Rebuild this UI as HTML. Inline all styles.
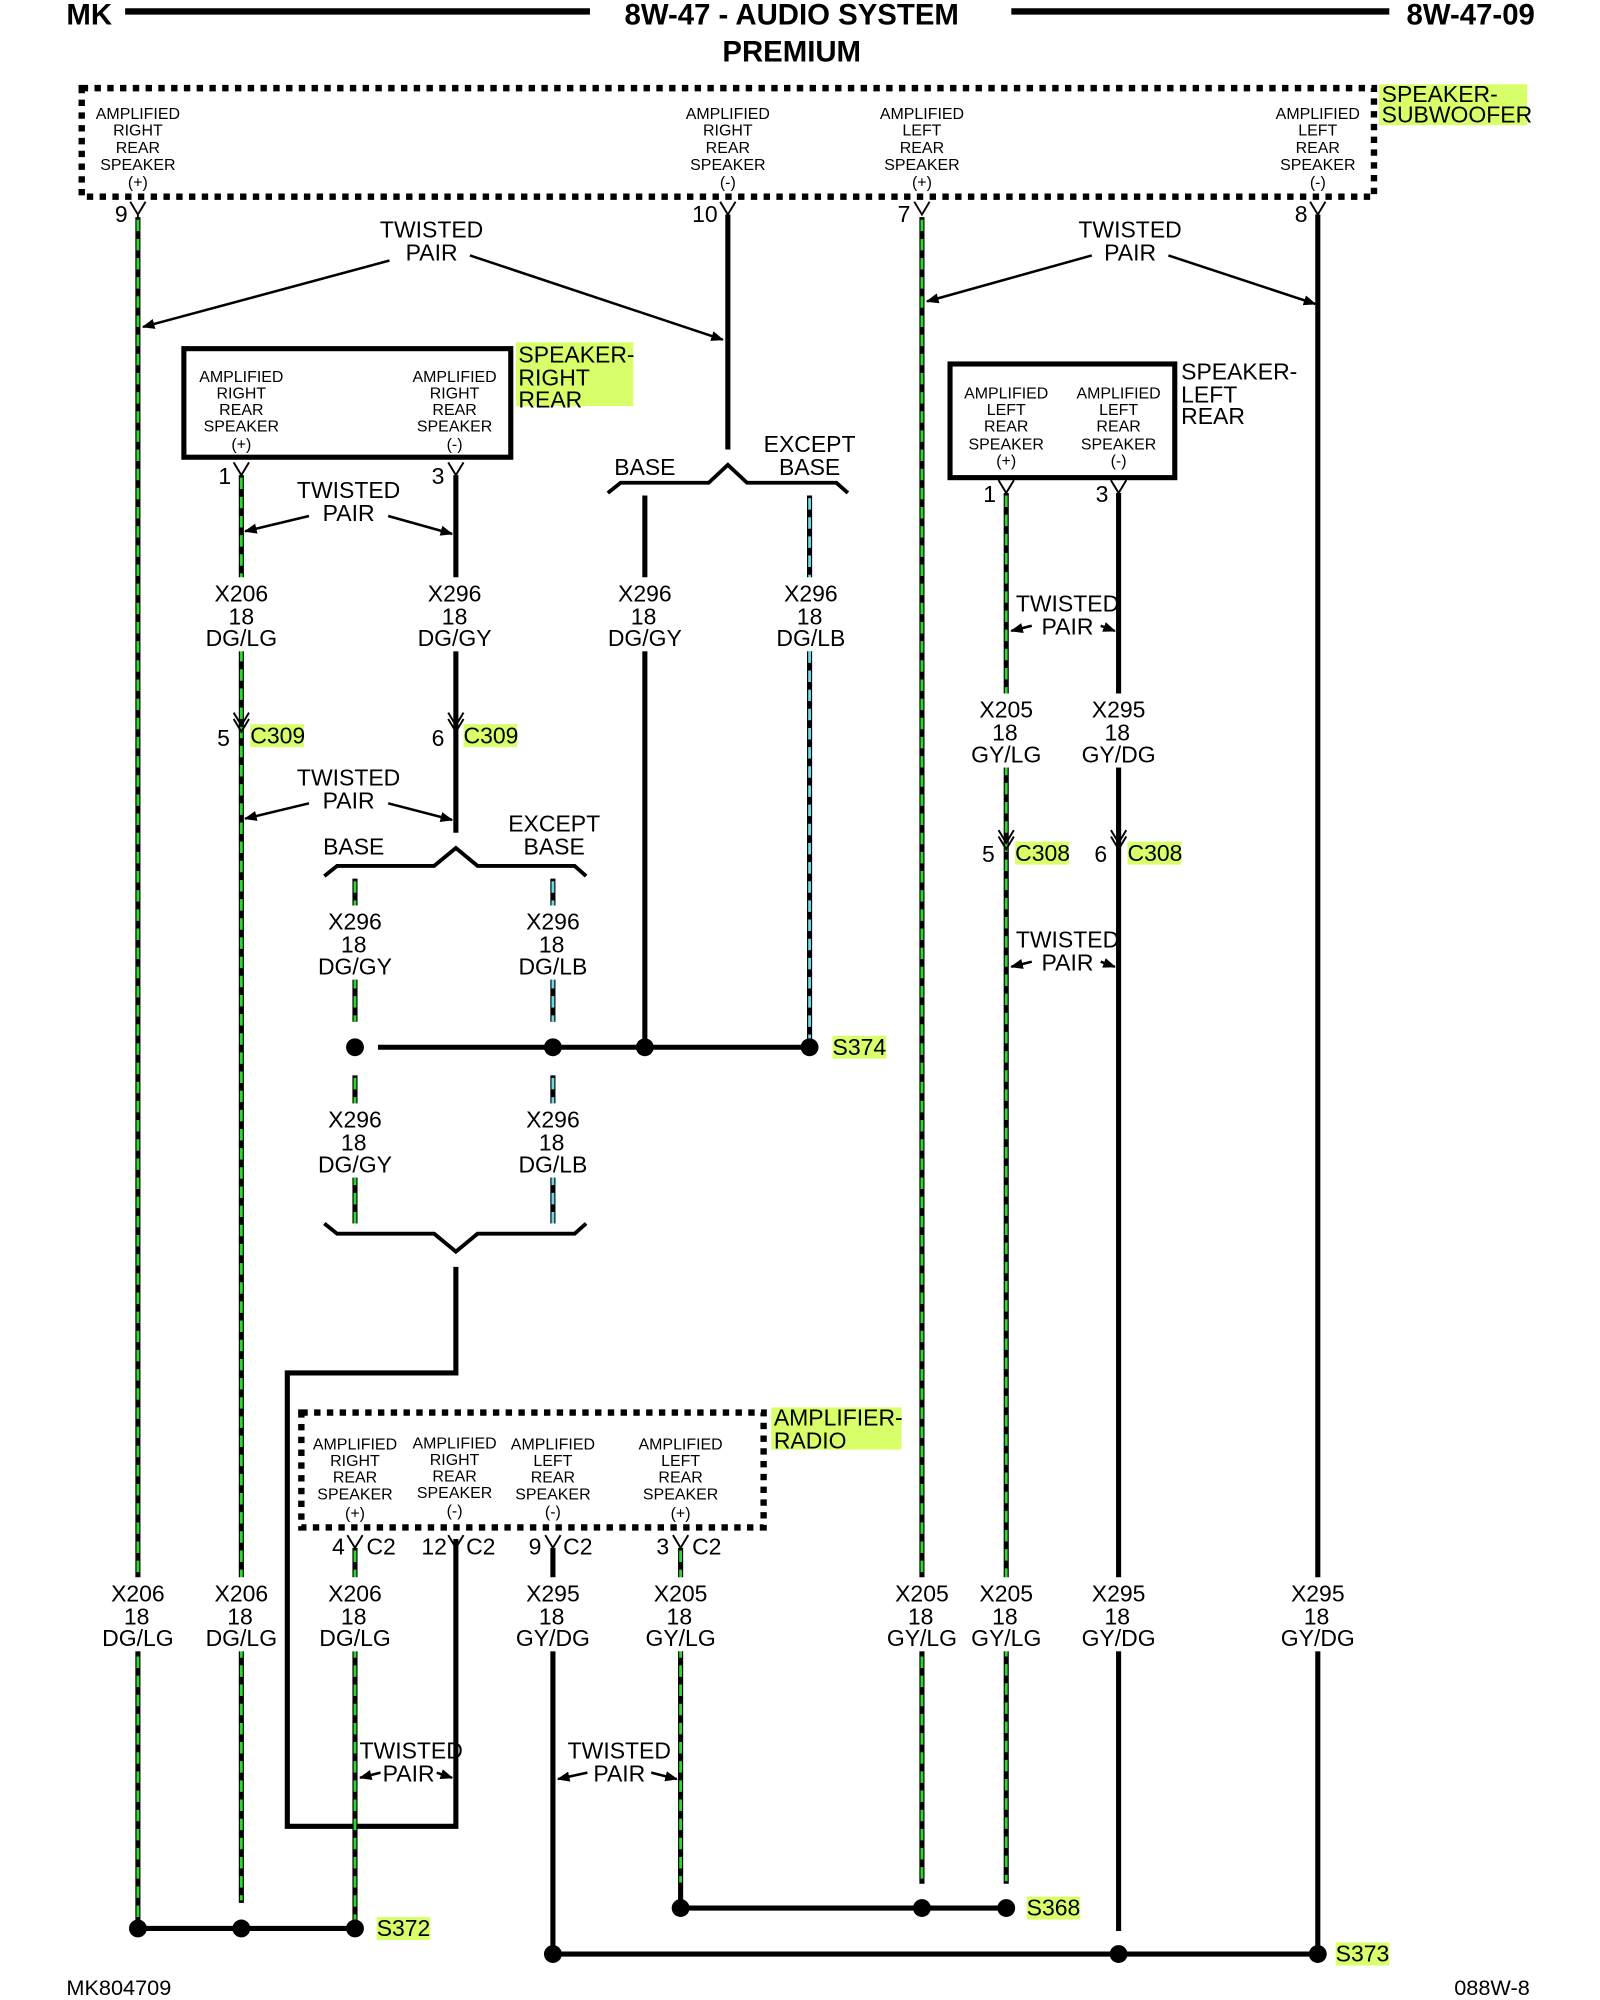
<!DOCTYPE html>
<html><head><meta charset="utf-8"><style>
html,body{margin:0;padding:0;background:#fff}
svg{display:block}
text{font-family:"Liberation Sans Narrow","Liberation Sans",sans-serif;fill:#000}
.h{font-size:23px;font-weight:bold}
.p{font-size:12.5px;text-anchor:middle}
.w{font-size:18px;text-anchor:middle}
.l{font-size:18px}
.b{stroke:#000;stroke-width:4;fill:none}
.g{stroke:#2fd62f;stroke-width:2.2;stroke-dasharray:9 6;fill:none}
.c{stroke:#6fd8e8;stroke-width:2.2;stroke-dasharray:9 6;fill:none}
.a{stroke:#000;stroke-width:2;fill:none;marker-end:url(#ar)}
.hl{fill:#d8ff6a}
</style></head><body>
<svg width="1600" height="2000" viewBox="0 0 1253 1566" preserveAspectRatio="none" xmlns="http://www.w3.org/2000/svg">
<defs><marker id="ar" markerWidth="10" markerHeight="8" refX="9" refY="4" orient="auto" markerUnits="userSpaceOnUse"><path d="M0,0 L10,4 L0,8 z" fill="#000"/></marker></defs>
<!-- header -->
<text class="h" x="52" y="19">MK</text>
<line x1="98" y1="9" x2="462" y2="9" stroke="#000" stroke-width="5"/>
<text class="h" x="620" y="19" text-anchor="middle">8W-47 - AUDIO SYSTEM</text>
<line x1="792" y1="9" x2="1088" y2="9" stroke="#000" stroke-width="5"/>
<text class="h" x="1202" y="19" text-anchor="end">8W-47-09</text>
<text class="h" x="620" y="48" text-anchor="middle">PREMIUM</text>

<!-- top dotted box -->
<rect x="64" y="69" width="1012" height="85" fill="none" stroke="#000" stroke-width="5" stroke-dasharray="5 5"/>
<rect class="hl" x="1080" y="66" width="116" height="32"/>
<text class="l" x="1082" y="80">SPEAKER-</text><text class="l" x="1082" y="96">SUBWOOFER</text>
<g class="p">
<text x="108" y="93">AMPLIFIED</text><text x="108" y="106">RIGHT</text><text x="108" y="120">REAR</text><text x="108" y="133">SPEAKER</text><text x="108" y="147">(+)</text>
<text x="570" y="93">AMPLIFIED</text><text x="570" y="106">RIGHT</text><text x="570" y="120">REAR</text><text x="570" y="133">SPEAKER</text><text x="570" y="147">(-)</text>
<text x="722" y="93">AMPLIFIED</text><text x="722" y="106">LEFT</text><text x="722" y="120">REAR</text><text x="722" y="133">SPEAKER</text><text x="722" y="147">(+)</text>
<text x="1032" y="93">AMPLIFIED</text><text x="1032" y="106">LEFT</text><text x="1032" y="120">REAR</text><text x="1032" y="133">SPEAKER</text><text x="1032" y="147">(-)</text>
</g>
<g class="l">
<text x="90" y="174">9</text><text x="542" y="174">10</text><text x="703" y="174">7</text><text x="1014" y="174">8</text>
</g>
<g stroke="#000" stroke-width="1.5" fill="none">
<path d="M102,158 L108,168 L114,158 M108,168 V172"/><path d="M564,158 L570,168 L576,158"/><path d="M716,158 L722,168 L728,158"/><path d="M1026,158 L1032,168 L1038,158"/>
</g>

<!-- main wires -->
<path class="b" d="M108,170 V1510"/><path class="g" d="M108,172 V1508"/>
<path class="b" d="M570,168 V352"/>
<path class="b" d="M722,170 V1475"/><path class="g" d="M722,172 V1473"/>
<path class="b" d="M1032,168 V1530"/>

<text class="l" x="338" y="186" text-anchor="middle">TWISTED</text><text class="l" x="338" y="204" text-anchor="middle">PAIR</text>
<line class="a" x1="305" y1="204" x2="112" y2="256"/><line class="a" x1="368" y1="200" x2="566" y2="266"/>
<text class="l" x="885" y="186" text-anchor="middle">TWISTED</text><text class="l" x="885" y="204" text-anchor="middle">PAIR</text>
<line class="a" x1="855" y1="200" x2="726" y2="236"/><line class="a" x1="915" y1="200" x2="1030" y2="238"/>

<!-- right rear box -->
<rect x="144" y="273" width="256" height="85" fill="#fff" stroke="#000" stroke-width="4"/>
<rect class="hl" x="404" y="268" width="92" height="50"/>
<text class="l" x="406" y="284">SPEAKER-</text><text class="l" x="406" y="302">RIGHT</text><text class="l" x="406" y="319">REAR</text>
<g class="p">
<text x="189" y="299">AMPLIFIED</text><text x="189" y="312">RIGHT</text><text x="189" y="325">REAR</text><text x="189" y="338">SPEAKER</text><text x="189" y="352">(+)</text>
<text x="356" y="299">AMPLIFIED</text><text x="356" y="312">RIGHT</text><text x="356" y="325">REAR</text><text x="356" y="338">SPEAKER</text><text x="356" y="352">(-)</text>
</g>
<text class="l" x="171" y="379">1</text><text class="l" x="338" y="379">3</text>
<g stroke="#000" stroke-width="1.5" fill="none"><path d="M183,362 L189,372 L195,362"/><path d="M351,362 L357,372 L363,362"/></g>
<path class="b" d="M189,372 V1490"/><path class="g" d="M189,374 V1488"/>
<path class="b" d="M357,372 V652"/>
<text class="l" x="273" y="390" text-anchor="middle">TWISTED</text><text class="l" x="273" y="408" text-anchor="middle">PAIR</text>
<line class="a" x1="242" y1="404" x2="192" y2="416"/><line class="a" x1="304" y1="404" x2="354" y2="418"/>

<!-- C309 -->
<g stroke="#000" stroke-width="1.5" fill="none"><path d="M183,558 L189,568 L195,558 M183,563 L189,573 L195,563"/><path d="M351,558 L357,568 L363,558 M351,563 L357,573 L363,563"/></g>
<text class="l" x="170" y="584">5</text><rect class="hl" x="196" y="567" width="42" height="18"/><text class="l" x="196" y="582">C309</text>
<text class="l" x="338" y="584">6</text><rect class="hl" x="363" y="567" width="42" height="18"/><text class="l" x="363" y="582">C309</text>
<text class="l" x="273" y="615" text-anchor="middle">TWISTED</text><text class="l" x="273" y="633" text-anchor="middle">PAIR</text>
<line class="a" x1="242" y1="629" x2="192" y2="641"/><line class="a" x1="304" y1="629" x2="354" y2="642"/>

<!-- bracket 1 -->
<path d="M254,686 L264,678 L340,678 L357,664 L374,678 L450,678 L459,686" class="b" style="stroke-width:3"/>
<text class="l" x="277" y="669" text-anchor="middle">BASE</text>
<text class="l" x="434" y="651" text-anchor="middle">EXCEPT</text><text class="l" x="434" y="669" text-anchor="middle">BASE</text>
<path class="b" d="M278,688 V800"/><path class="g" d="M278,690 V800"/>
<path class="b" d="M433,688 V800"/><path class="c" d="M433,690 V800"/>
<path class="b" d="M278,842 V958"/><path class="g" d="M278,844 V958"/>
<path class="b" d="M433,842 V958"/><path class="c" d="M433,844 V958"/>
<path d="M254,958 L264,966 L340,966 L357,980 L374,966 L450,966 L459,958" class="b" style="stroke-width:3"/>
<path class="b" d="M357,992 V1075 H225 V1430 H357 V1205"/>

<!-- middle bracket -->
<path d="M476,386 L486,378 L555,378 L570,364 L585,378 L655,378 L664,386" class="b" style="stroke-width:3"/>
<text class="l" x="505" y="372" text-anchor="middle">BASE</text>
<text class="l" x="634" y="354" text-anchor="middle">EXCEPT</text><text class="l" x="634" y="372" text-anchor="middle">BASE</text>
<path class="b" d="M505,388 V820"/>
<path class="b" d="M634,388 V820"/><path class="c" d="M634,390 V818"/>

<!-- S374 -->
<line x1="296" y1="820" x2="634" y2="820" stroke="#000" stroke-width="4"/>
<circle cx="278" cy="820" r="7"/><circle cx="433" cy="820" r="7"/><circle cx="505" cy="820" r="7"/><circle cx="634" cy="820" r="7"/>
<rect class="hl" x="652" y="811" width="42" height="18"/><text class="l" x="652" y="826">S374</text>

<!-- left rear box -->
<rect x="744" y="285" width="176" height="89" fill="#fff" stroke="#000" stroke-width="4"/>
<text class="l" x="925" y="297">SPEAKER-</text><text class="l" x="925" y="315">LEFT</text><text class="l" x="925" y="332">REAR</text>
<g class="p">
<text x="788" y="312">AMPLIFIED</text><text x="788" y="325">LEFT</text><text x="788" y="338">REAR</text><text x="788" y="352">SPEAKER</text><text x="788" y="365">(+)</text>
<text x="876" y="312">AMPLIFIED</text><text x="876" y="325">LEFT</text><text x="876" y="338">REAR</text><text x="876" y="352">SPEAKER</text><text x="876" y="365">(-)</text>
</g>
<text class="l" x="770" y="393">1</text><text class="l" x="858" y="393">3</text>
<g stroke="#000" stroke-width="1.5" fill="none"><path d="M782,376 L788,386 L794,376"/><path d="M870,376 L876,386 L882,376"/></g>
<path class="b" d="M788,386 V1475"/><path class="g" d="M788,388 V1473"/>
<path class="b" d="M876,386 V1512"/>
<text class="l" x="836" y="479" text-anchor="middle">TWISTED</text><text class="l" x="836" y="497" text-anchor="middle">PAIR</text>
<line class="a" x1="808" y1="490" x2="792" y2="494"/><line class="a" x1="862" y1="490" x2="873" y2="494"/>
<g stroke="#000" stroke-width="1.5" fill="none"><path d="M782,650 L788,660 L794,650 M782,655 L788,665 L794,655"/><path d="M870,650 L876,660 L882,650 M870,655 L876,665 L882,655"/></g>
<text class="l" x="769" y="675">5</text><rect class="hl" x="795" y="659" width="42" height="18"/><text class="l" x="795" y="674">C308</text>
<text class="l" x="857" y="675">6</text><rect class="hl" x="883" y="659" width="42" height="18"/><text class="l" x="883" y="674">C308</text>
<text class="l" x="836" y="742" text-anchor="middle">TWISTED</text><text class="l" x="836" y="760" text-anchor="middle">PAIR</text>
<line class="a" x1="808" y1="753" x2="792" y2="757"/><line class="a" x1="862" y1="753" x2="873" y2="757"/>

<!-- amplifier radio -->
<rect x="236" y="1106" width="362" height="90" fill="#fff" stroke="#000" stroke-width="5" stroke-dasharray="5 5"/>
<rect class="hl" x="604" y="1102" width="102" height="33"/>
<text class="l" x="606" y="1116">AMPLIFIER-</text><text class="l" x="606" y="1134">RADIO</text>
<g class="p">
<text x="278" y="1135">AMPLIFIED</text><text x="278" y="1148">RIGHT</text><text x="278" y="1161">REAR</text><text x="278" y="1174">SPEAKER</text><text x="278" y="1189">(+)</text>
<text x="356" y="1134">AMPLIFIED</text><text x="356" y="1147">RIGHT</text><text x="356" y="1160">REAR</text><text x="356" y="1173">SPEAKER</text><text x="356" y="1187">(-)</text>
<text x="433" y="1135">AMPLIFIED</text><text x="433" y="1148">LEFT</text><text x="433" y="1161">REAR</text><text x="433" y="1174">SPEAKER</text><text x="433" y="1188">(-)</text>
<text x="533" y="1135">AMPLIFIED</text><text x="533" y="1148">LEFT</text><text x="533" y="1161">REAR</text><text x="533" y="1174">SPEAKER</text><text x="533" y="1189">(+)</text>
</g>
<g stroke="#000" stroke-width="1.5" fill="none"><path d="M272,1202 L278,1212 L284,1202"/><path d="M351,1202 L357,1212 L363,1202"/><path d="M427,1202 L433,1212 L439,1202"/><path d="M527,1202 L533,1212 L539,1202"/></g>
<g class="l"><text x="260" y="1217">4</text><text x="287" y="1217">C2</text><text x="330" y="1217">12</text><text x="365" y="1217">C2</text><text x="414" y="1217">9</text><text x="441" y="1217">C2</text><text x="514" y="1217">3</text><text x="542" y="1217">C2</text></g>
<path class="b" d="M278,1212 V1510"/><path class="g" d="M278,1214 V1508"/>
<path class="b" d="M433,1212 V1530"/>
<path class="b" d="M533,1212 V1494"/><path class="g" d="M533,1214 V1474"/>
<text class="l" x="322" y="1377" text-anchor="middle">TWISTED</text><text class="l" x="320" y="1395" text-anchor="middle">PAIR</text>
<line class="a" x1="298" y1="1388" x2="282" y2="1392"/><line class="a" x1="342" y1="1388" x2="354" y2="1392"/>
<text class="l" x="485" y="1377" text-anchor="middle">TWISTED</text><text class="l" x="485" y="1395" text-anchor="middle">PAIR</text>
<line class="a" x1="460" y1="1388" x2="437" y2="1393"/><line class="a" x1="510" y1="1388" x2="530" y2="1393"/>

<!-- wire labels -->
<g class="w">
<g><rect x="160" y="452" width="58" height="58" fill="#fff"/><text x="189" y="471">X206</text><text x="189" y="489">18</text><text x="189" y="506">DG/LG</text></g>
<g><rect x="328" y="452" width="58" height="58" fill="#fff"/><text x="356" y="471">X296</text><text x="356" y="489">18</text><text x="356" y="506">DG/GY</text></g>
<g><rect x="476" y="452" width="58" height="58" fill="#fff"/><text x="505" y="471">X296</text><text x="504" y="489">18</text><text x="505" y="506">DG/GY</text></g>
<g><rect x="605" y="452" width="58" height="58" fill="#fff"/><text x="635" y="471">X296</text><text x="634" y="489">18</text><text x="635" y="506">DG/LB</text></g>
<g><rect x="759" y="543" width="58" height="58" fill="#fff"/><text x="788" y="562">X205</text><text x="787" y="580">18</text><text x="788" y="597">GY/LG</text></g>
<g><rect x="847" y="543" width="58" height="58" fill="#fff"/><text x="876" y="562">X295</text><text x="875" y="580">18</text><text x="876" y="597">GY/DG</text></g>
<g><rect x="249" y="709" width="58" height="58" fill="#fff"/><text x="278" y="728">X296</text><text x="277" y="746">18</text><text x="278" y="763">DG/GY</text></g>
<g><rect x="404" y="709" width="58" height="58" fill="#fff"/><text x="433" y="728">X296</text><text x="432" y="746">18</text><text x="433" y="763">DG/LB</text></g>
<g><rect x="249" y="864" width="58" height="58" fill="#fff"/><text x="278" y="883">X296</text><text x="277" y="901">18</text><text x="278" y="918">DG/GY</text></g>
<g><rect x="404" y="864" width="58" height="58" fill="#fff"/><text x="433" y="883">X296</text><text x="432" y="901">18</text><text x="433" y="918">DG/LB</text></g>
<g><rect x="79" y="1235" width="58" height="58" fill="#fff"/><text x="108" y="1254">X206</text><text x="107" y="1272">18</text><text x="108" y="1289">DG/LG</text></g>
<g><rect x="160" y="1235" width="58" height="58" fill="#fff"/><text x="189" y="1254">X206</text><text x="188" y="1272">18</text><text x="189" y="1289">DG/LG</text></g>
<g><rect x="249" y="1235" width="58" height="58" fill="#fff"/><text x="278" y="1254">X206</text><text x="277" y="1272">18</text><text x="278" y="1289">DG/LG</text></g>
<g><rect x="404" y="1235" width="58" height="58" fill="#fff"/><text x="433" y="1254">X295</text><text x="432" y="1272">18</text><text x="433" y="1289">GY/DG</text></g>
<g><rect x="504" y="1235" width="58" height="58" fill="#fff"/><text x="533" y="1254">X205</text><text x="532" y="1272">18</text><text x="533" y="1289">GY/LG</text></g>
<g><rect x="693" y="1235" width="58" height="58" fill="#fff"/><text x="722" y="1254">X205</text><text x="721" y="1272">18</text><text x="722" y="1289">GY/LG</text></g>
<g><rect x="759" y="1235" width="58" height="58" fill="#fff"/><text x="788" y="1254">X205</text><text x="787" y="1272">18</text><text x="788" y="1289">GY/LG</text></g>
<g><rect x="847" y="1235" width="58" height="58" fill="#fff"/><text x="876" y="1254">X295</text><text x="875" y="1272">18</text><text x="876" y="1289">GY/DG</text></g>
<g><rect x="1003" y="1235" width="58" height="58" fill="#fff"/><text x="1032" y="1254">X295</text><text x="1031" y="1272">18</text><text x="1032" y="1289">GY/DG</text></g>
</g>

<!-- splices -->
<line x1="108" y1="1510" x2="278" y2="1510" stroke="#000" stroke-width="4"/>
<circle cx="108" cy="1510" r="7"/><circle cx="189" cy="1510" r="7"/><circle cx="278" cy="1510" r="7"/>
<rect class="hl" x="295" y="1501" width="42" height="18"/><text class="l" x="295" y="1516">S372</text>
<line x1="533" y1="1494" x2="788" y2="1494" stroke="#000" stroke-width="4"/>
<circle cx="533" cy="1494" r="7"/><circle cx="722" cy="1494" r="7"/><circle cx="788" cy="1494" r="7"/>
<rect class="hl" x="804" y="1485" width="42" height="18"/><text class="l" x="804" y="1500">S368</text>
<line x1="433" y1="1530" x2="1032" y2="1530" stroke="#000" stroke-width="4"/>
<circle cx="433" cy="1530" r="7"/><circle cx="876" cy="1530" r="7"/><circle cx="1032" cy="1530" r="7"/>
<rect class="hl" x="1046" y="1521" width="42" height="18"/><text class="l" x="1046" y="1536">S373</text>

<text class="l" x="52" y="1562" style="font-size:17px">MK804709</text>
<text class="l" x="1198" y="1562" text-anchor="end" style="font-size:17px">088W-8</text>
</svg>
</body></html>
